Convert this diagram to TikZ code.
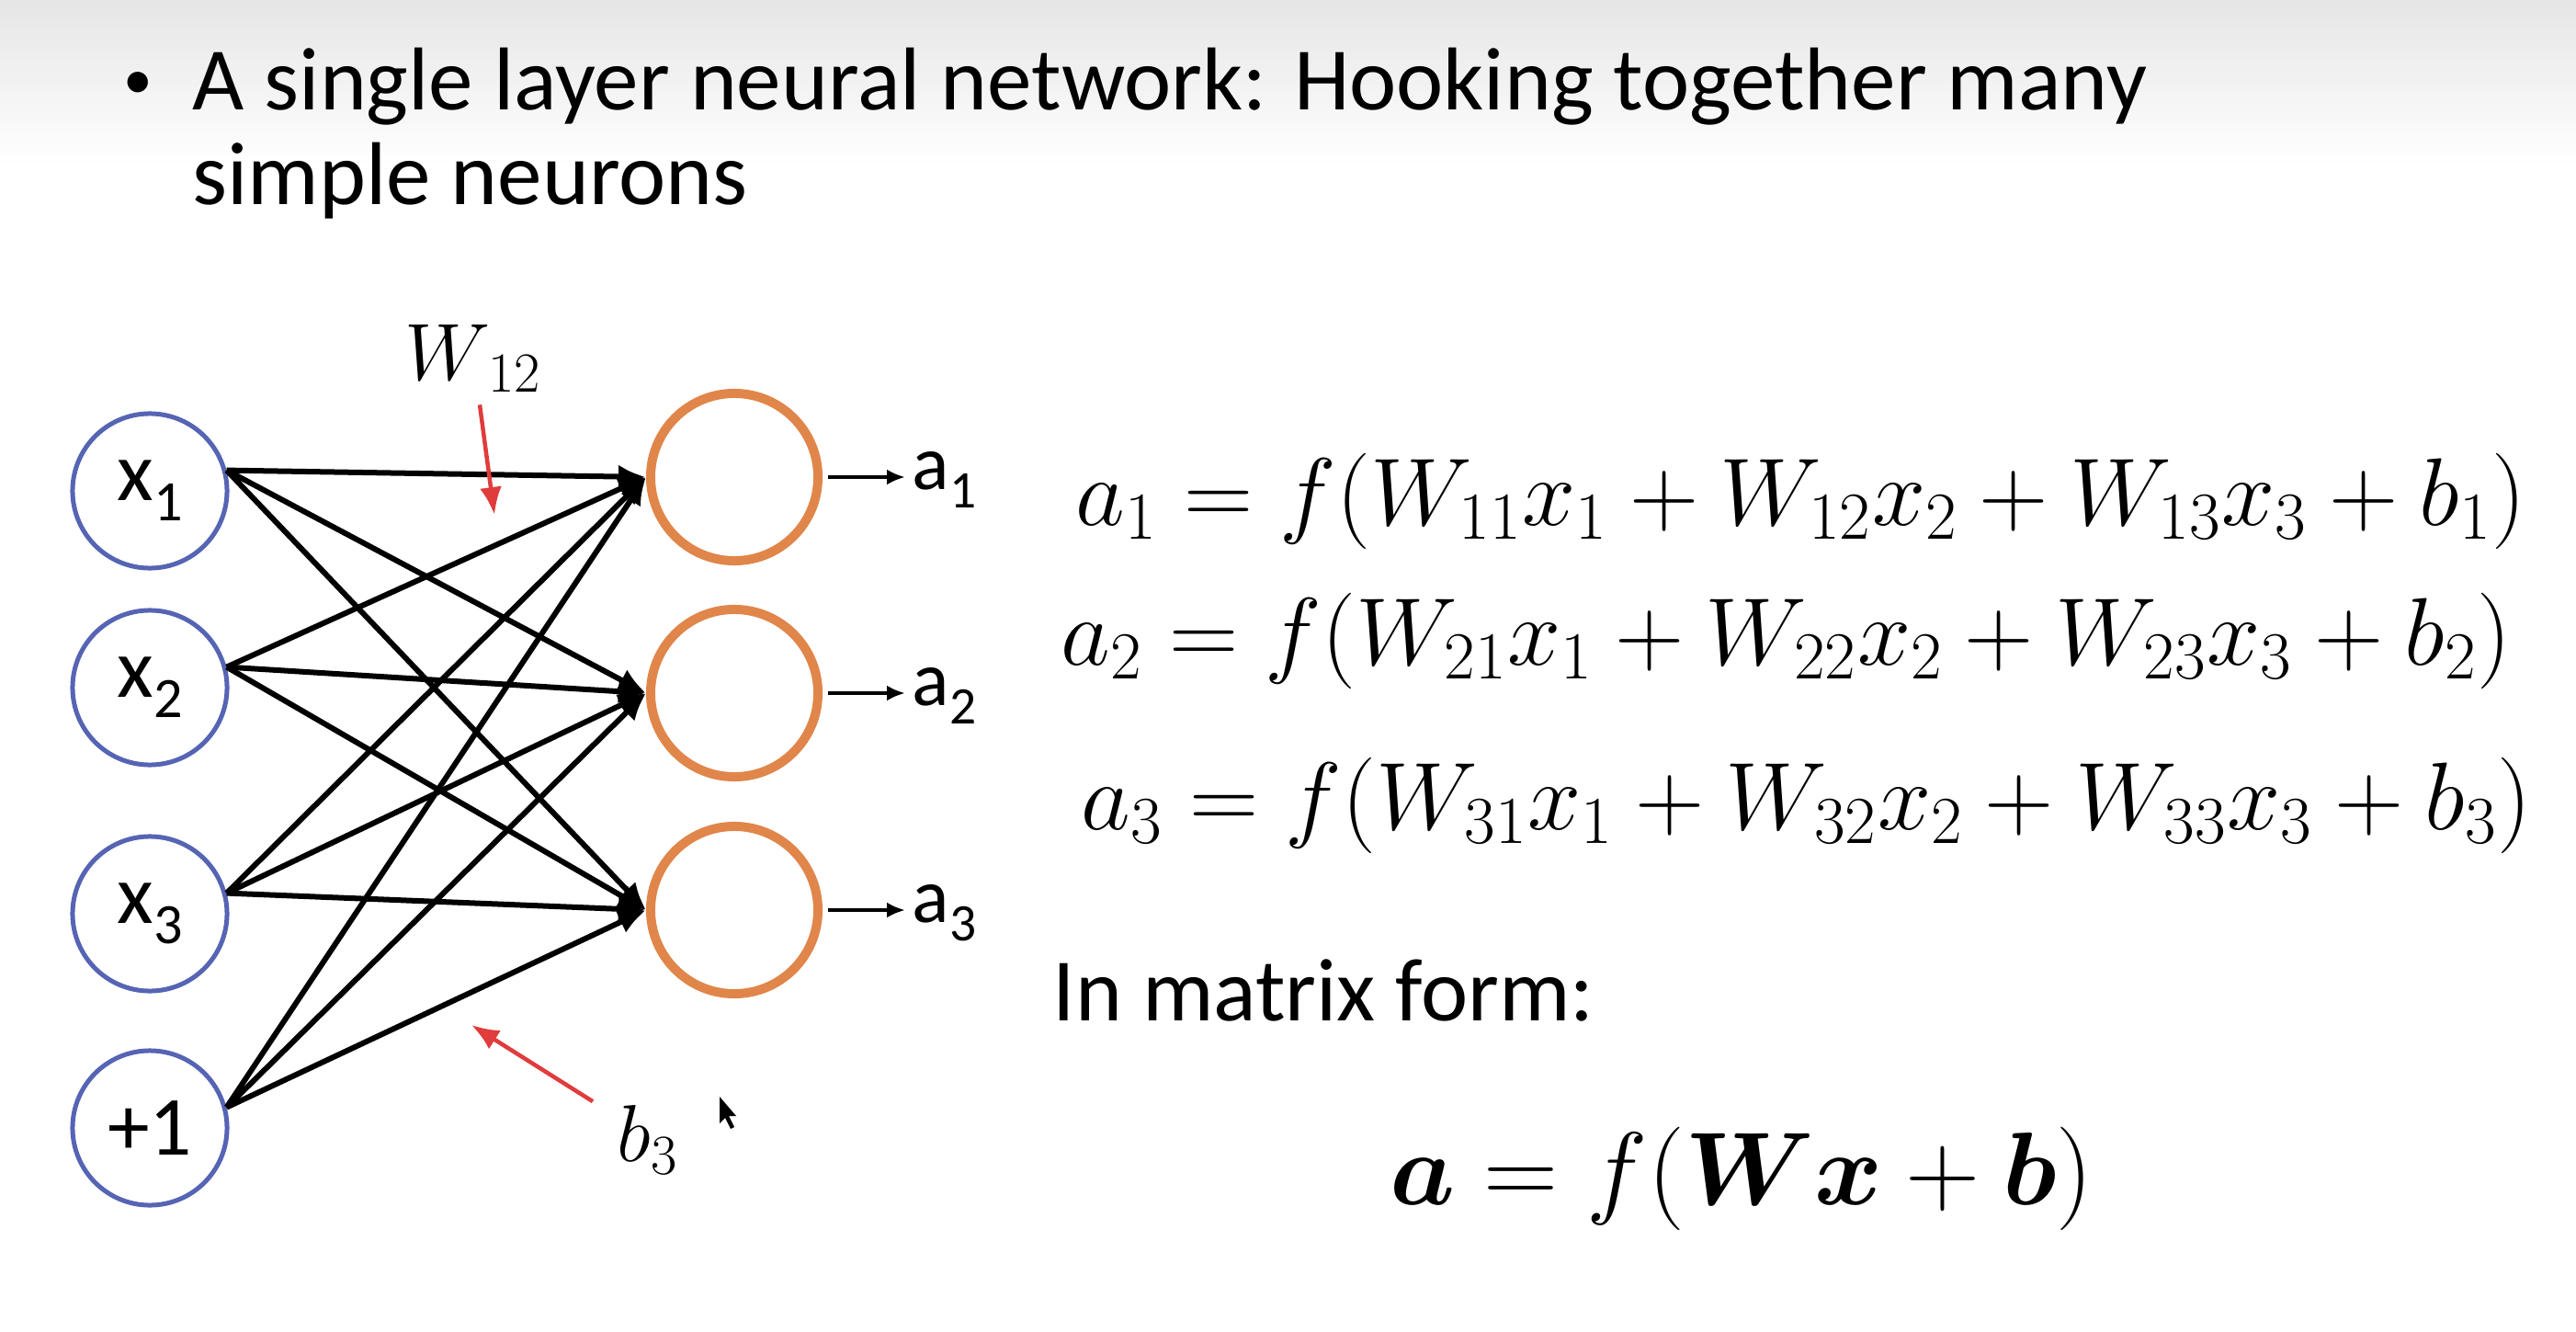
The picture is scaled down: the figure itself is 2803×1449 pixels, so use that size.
\RequirePackage{fix-cm}
\documentclass[tikz,border=0pt]{standalone}
\usepackage{amsmath}
\usepackage[no-math]{fontspec}
\setmainfont{Carlito}
\usetikzlibrary{arrows.meta}
\definecolor{inblue}{HTML}{5664B4}
\definecolor{outorange}{HTML}{E0864A}
\definecolor{markred}{HTML}{E03C3C}
\newcommand{\fsz}[1]{\fontsize{#1}{#1}\selectfont}
\newcommand{\lsub}[1]{\raisebox{-0.24em}{\fontsize{0.68em}{0.68em}\selectfont #1}}
\tikzset{
  innode/.style={
    circle, draw=inblue, line width=0.05cm,
    minimum size=1.68cm, inner sep=0pt, font=\fsz{26pt}
  },
  outnode/.style={
    circle, draw=outorange, line width=0.1cm,
    minimum size=1.82cm, inner sep=0pt
  },
  wire/.style={-{Latex[length=0.3cm, width=0.26cm]}, line width=0.06cm},
  outarrow/.style={-{Latex[length=0.2cm, width=0.17cm]}, line width=0.04cm, shorten <=0.06cm},
  markarrow/.style={-{Latex[length=0.3cm, width=0.24cm]}, line width=0.045cm, color=markred},
  titletext/.style={font=\fontsize{27.6pt}{29pt}\selectfont, inner sep=0pt},
  alabel/.style={font=\fsz{24pt}, inner sep=2pt},
  marklabel/.style={font=\fsz{25pt}, inner sep=0pt},
  eqn/.style={font=\fsz{29.7pt}, inner sep=0pt},
}

\begin{document}
\begin{tikzpicture}[x=0.01cm, y=-0.01cm]
  \useasboundingbox (0,0) rectangle (2803,1449);
  \shade[top color=black!10, bottom color=white] (0,0) rectangle (2803,180);

  % heading
  \node[titletext] (bullet) at (150,93) {\fsz{18pt}•};
  \node[titletext, anchor=base west] (line1) at (209,120) {A single layer neural network: Hooking together many};
  \node[titletext, anchor=base west] (line2) at (209,223) {simple neurons};

  % inputs and units
  \node[innode] (x1) at (163,534) {x\lsub{1}};
  \node[innode] (x2) at (163,748) {x\lsub{2}};
  \node[innode] (x3) at (163,994) {x\lsub{3}};
  \node[innode] (bias) at (163,1227) {+1};
  \node[outnode] (o1) at (799,519) {};
  \node[outnode] (o2) at (799,754) {};
  \node[outnode] (o3) at (799,990) {};

  \foreach \s in {x1,x2,x3,bias}
    \foreach \t in {o1,o2,o3}
      \draw[wire] (\s.15) -- (\t.west);

  % outputs
  \node[alabel, anchor=west] (a1) at (985,522) {a\lsub{1}};
  \node[alabel, anchor=west] (a2) at (985,757) {a\lsub{2}};
  \node[alabel, anchor=west] (a3) at (985,993) {a\lsub{3}};
  \foreach \i in {1,2,3}
    \draw[outarrow] (o\i.east) -- (o\i.east -| a\i.west);

  % weight and bias pointers
  \node[marklabel] (wlabel) at (515,390) {$W_{\,12}$};
  \coordinate (wtip) at (538,560);
  \draw[markarrow] ([shift={(7,13)}]wlabel.south) -- (wtip);
  \node[marklabel] (blabel) at (705,1240) {$b_3$};
  \coordinate (btip) at (513,1115);
  \draw[markarrow] ([shift={(-26,-4)}]blabel.north west) -- (btip);
  \fill (783,1193) -- (783,1222) -- (789,1216) -- (795,1228) -- (799,1226) -- (793,1214) -- (801,1214) -- cycle;

  % equations
  \node[eqn, anchor=west] (eq1) at (1170,545) {$a_1 = f(W_{11}x_1 + W_{12}x_2 + W_{13}x_3 + b_1)$};
  \node[eqn, anchor=west] (eq2) at (1154,697) {$a_2 = f(W_{21}x_1 + W_{22}x_2 + W_{23}x_3 + b_2)$};
  \node[eqn, anchor=west] (eq3) at (1176,876) {$a_3 = f(W_{31}x_1 + W_{32}x_2 + W_{33}x_3 + b_3)$};
  \node[titletext, anchor=base west] (mform) at (1145,1110) {In matrix form:};
  \node[eqn, font=\fsz{32pt}] (meq) at (1895,1282) {$\boldsymbol{a} = f(\boldsymbol{W}\boldsymbol{x} + \boldsymbol{b})$};
\end{tikzpicture}
\end{document}
